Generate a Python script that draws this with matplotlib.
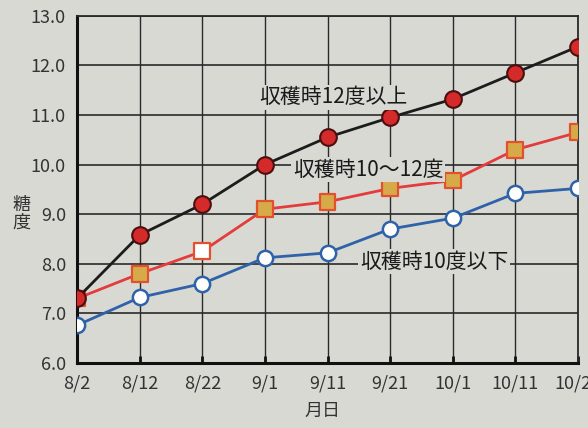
import matplotlib.pyplot as plt

plt.rcParams['font.family'] = ['Noto Sans CJK JP', 'DejaVu Sans']

dates = ["8/2", "8/12", "8/22", "9/1", "9/11", "9/21", "10/1", "10/11", "10/21"]
over12 = [7.3, 8.58, 9.2, 10.0, 10.55, 10.95, 11.32, 11.85, 12.38]
mid10_12 = [7.3, 7.8, 8.25, 9.1, 9.25, 9.52, 9.68, 10.3, 10.65]
under10 = [6.76, 7.32, 7.6, 8.12, 8.22, 8.7, 8.92, 9.42, 9.52]
yticks = [6.0, 7.0, 8.0, 9.0, 10.0, 11.0, 12.0, 13.0]

bg = "#d9d9d4"
x = list(range(len(dates)))

fig = plt.figure(figsize=(5.88, 4.28), dpi=100, facecolor=bg)
ax = fig.add_axes([0.131, 0.152, 0.852, 0.811], facecolor=bg)

# grid
for xi in x:
    ax.axvline(xi, color="#2a2a2a", lw=1.0, zorder=1)
for yv in yticks:
    ax.axhline(yv, color="#2a2a2a", lw=1.2, zorder=1)

ax.plot(x, under10, color="#2f62a8", lw=2, marker="o", ms=11,
        mfc="white", mec="#2f62a8", mew=1.8, zorder=3)

# square markers, the 8/22 one is open
sq_fill = ["#d6aa48"] * len(x)
sq_fill[2] = "white"
ax.plot(x, mid10_12, color="#e23c3c", lw=2, zorder=3)
ax.scatter(x, mid10_12, marker="s", s=130, c=sq_fill, edgecolors="#e2502e",
           linewidths=1.6, zorder=4)

ax.plot(x, over12, color="#1c1c1c", lw=2, marker="o", ms=12,
        mfc="#d42a2a", mec="#4a1010", mew=1.5, zorder=5)

box = dict(facecolor=bg, edgecolor="none", pad=1)
ax.text(4.1, 11.36, "収穫時12度以上", fontsize=15, ha="center", va="center",
        color="#1a1a1a", bbox=box, zorder=6)
ax.text(4.65, 9.9, "収穫時10〜12度", fontsize=15, ha="center", va="center",
        color="#1a1a1a", bbox=box, zorder=6)
ax.text(5.7, 8.04, "収穫時10度以下", fontsize=15, ha="center", va="center",
        color="#1a1a1a", bbox=box, zorder=6)

ax.set_xlim(0, len(x) - 1)
ax.set_ylim(6.0, 13.0)
ax.set_xticks(x)
ax.set_xticklabels(dates)
ax.set_yticks(yticks)
ax.set_yticklabels(["%.1f" % v for v in yticks])
ax.tick_params(axis="both", labelsize=13, colors="#333333", length=0, pad=8)
ax.tick_params(axis="x", direction="in", length=5, width=2, color="#111111")

for side in ["left", "bottom"]:
    ax.spines[side].set_linewidth(2.2)
    ax.spines[side].set_color("#111111")
for side in ["top", "right"]:
    ax.spines[side].set_linewidth(1.3)
    ax.spines[side].set_color("#2a2a2a")

fig.text(0.036, 0.50, "糖\n度", fontsize=13, ha="center", va="center",
         color="#333333", linespacing=1.0)
fig.text(0.549, 0.04, "月日", fontsize=13, ha="center", va="center",
         color="#333333")

fig.savefig("out.png", dpi=100, facecolor=bg)
